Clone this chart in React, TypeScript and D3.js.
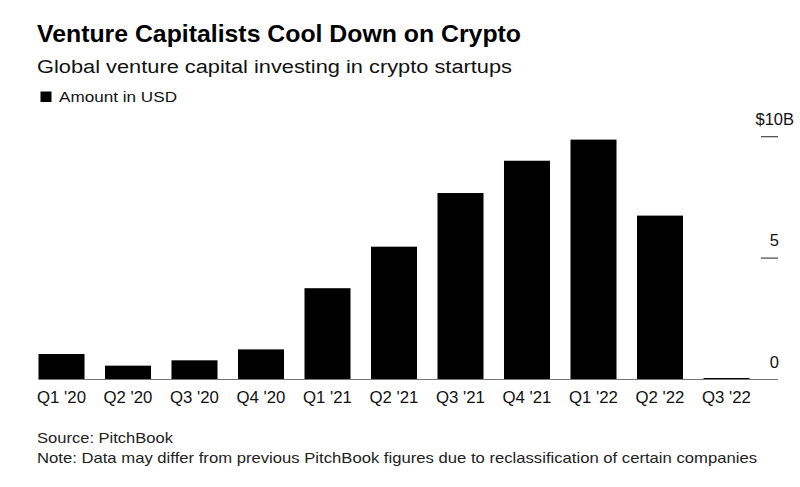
import React from "react";
import * as d3 from "d3";

const quarters = ["Q1 '20", "Q2 '20", "Q3 '20", "Q4 '20", "Q1 '21", "Q2 '21", "Q3 '21", "Q4 '21", "Q1 '22", "Q2 '22", "Q3 '22"];
const amounts = [1.05, 0.57, 0.79, 1.24, 3.76, 5.47, 7.68, 9.01, 9.88, 6.75, 0.06];
const yTicks = [0, 5, 10];
const yTickLabels = ["0", "5", "$10B"];

const title = "Venture Capitalists Cool Down on Crypto";
const subtitle = "Global venture capital investing in crypto startups";
const legendLabel = "Amount in USD";
const source = "Source: PitchBook";
const note = "Note: Data may differ from previous PitchBook figures due to reclassification of certain companies";

const W = 800;
const H = 487;
const FONT = "'Liberation Sans', Arial, Helvetica, sans-serif";

export default function App() {
  const x = d3.scaleBand<string>().domain(quarters).range([38.5, 749.5]).paddingInner(0.308).paddingOuter(0);
  const y = d3.scaleLinear().domain([0, 10]).range([379.5, 136.7]);

  return (
    <svg width={W} height={H} style={{ position: "absolute", left: 0, top: 0, background: "#fff" }} fontFamily={FONT}>
      <rect width={W} height={H} fill="#fff" />
      <text x={37} y={42} fontSize={24} fontWeight="bold" fill="#000" textLength={484} lengthAdjust="spacingAndGlyphs">{title}</text>
      <text x={37} y={73} fontSize={18} fill="#111" textLength={475} lengthAdjust="spacingAndGlyphs">{subtitle}</text>
      <rect x={40.5} y={91.5} width={11} height={10.5} fill="#000" />
      <text x={59} y={102} fontSize={15} fill="#111" textLength={118} lengthAdjust="spacingAndGlyphs">{legendLabel}</text>

      {amounts.map((v, i) => (
        <rect key={quarters[i]} x={x(quarters[i])} y={y(v)} width={x.bandwidth()} height={y(0) - y(v)} fill="#000" />
      ))}

      <line x1={38.5} x2={778} y1={y(0)} y2={y(0)} stroke="#777" strokeWidth={1} />

      {yTicks.map((t, i) => (
        <g key={t}>
          {t !== 0 && <line x1={761} x2={778} y1={y(t)} y2={y(t)} stroke="#444" strokeWidth={1.2} />}
          <text x={t === 10 ? 794 : 779} y={y(t) - 12} fontSize={16.5} textAnchor="end" fill="#111">{yTickLabels[i]}</text>
        </g>
      ))}

      {quarters.map((q) => (
        <text key={q} x={(x(q) as number) + x.bandwidth() / 2} y={403} fontSize={16.8} textAnchor="middle" fill="#111">{q}</text>
      ))}

      <text x={37} y={443} fontSize={15} fill="#222" textLength={136} lengthAdjust="spacingAndGlyphs">{source}</text>
      <text x={37} y={463} fontSize={15} fill="#222" textLength={720} lengthAdjust="spacingAndGlyphs">{note}</text>
    </svg>
  );
}
